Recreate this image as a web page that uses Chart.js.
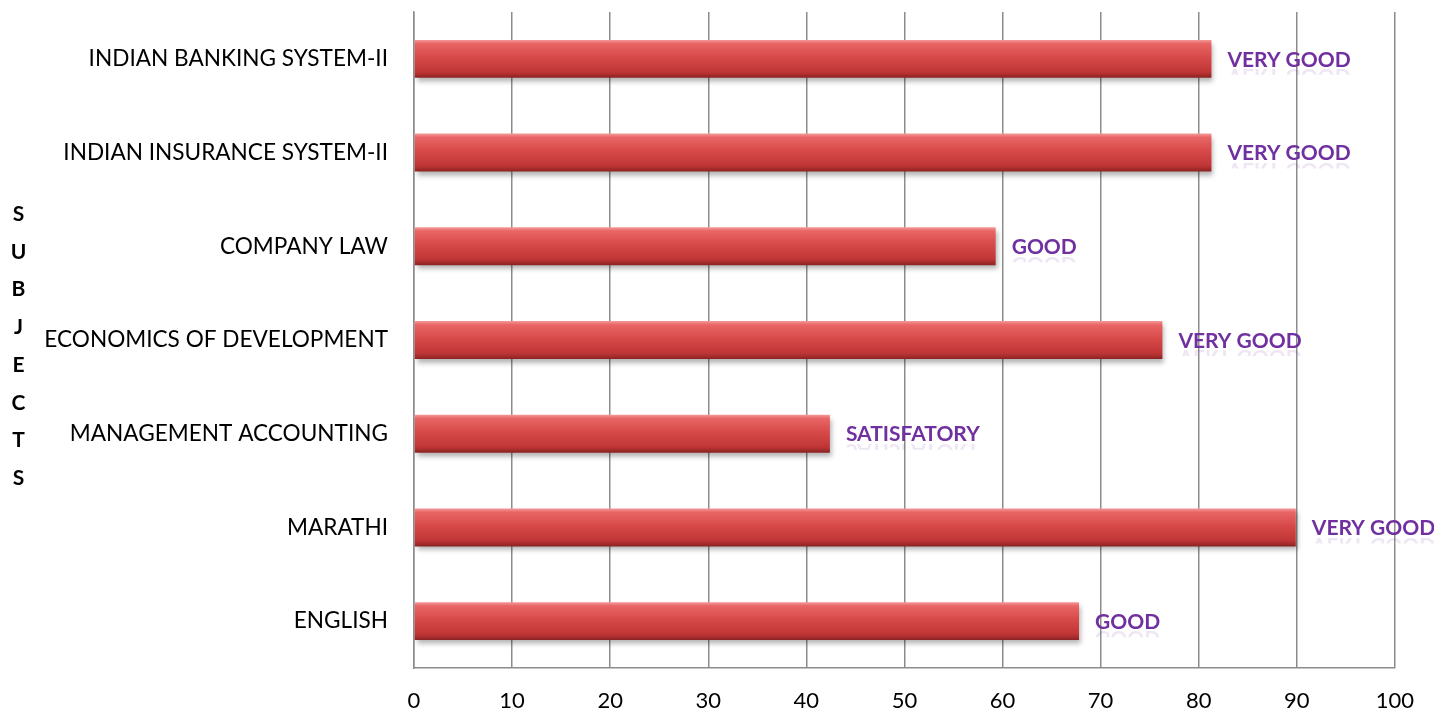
<!DOCTYPE html>
<html>
<head>
<meta charset="utf-8">
<script src="https://cdn.jsdelivr.net/npm/chart.js@4"></script>
<style>
  body { margin: 0; background: #fff; }
  #wrap { position: relative; width: 1434px; height: 715px; }
  #side { position: absolute; left: 8px; top: 194px; width: 21px; font: bold 21px Lato, sans-serif;
          text-align: center; line-height: 37.7px; color: #000; }
</style>
</head>
<body>
<div id="wrap">
  <canvas id="grafico" width="1434" height="715"></canvas>
  <div id="side">S<br>U<br>B<br>J<br>E<br>C<br>T<br>S</div>
</div>
<script>
const materias = ['INDIAN BANKING SYSTEM-II', 'INDIAN INSURANCE SYSTEM-II', 'COMPANY LAW',
    'ECONOMICS OF DEVELOPMENT', 'MANAGEMENT ACCOUNTING', 'MARATHI', 'ENGLISH'];
const notas = [81.3, 81.3, 59.3, 76.3, 42.4, 89.9, 67.8];
const conceitos = ['VERY GOOD', 'VERY GOOD', 'GOOD', 'VERY GOOD', 'SATISFATORY', 'VERY GOOD', 'GOOD'];
const ticksX = [0, 10, 20, 30, 40, 50, 60, 70, 80, 90, 100];

const ctx = document.getElementById('grafico');

// cor da barra com gradiente vertical (efeito 3D)
function corBarra(c) {
    const chart = c.chart;
    const y = chart.scales.y;
    if (!y || c.dataIndex === undefined) return '#c0393b';
    const yc = y.getPixelForValue(c.dataIndex);
    if (!isFinite(yc)) return '#c0393b';
    const h = 19;
    const g = chart.ctx.createLinearGradient(0, yc - h, 0, yc + h);
    g.addColorStop(0, '#f59a9a');
    g.addColorStop(0.1, '#e96565');
    g.addColorStop(0.45, '#d84a4a');
    g.addColorStop(0.85, '#bf3535');
    g.addColorStop(1, '#8a2222');
    return g;
}

const sombra = {
    id: 'sombra',
    beforeDatasetsDraw(chart) {
        const c = chart.ctx;
        c.save();
        c.shadowColor = 'rgba(0,0,0,0.3)';
        c.shadowOffsetY = 4;
        c.shadowOffsetX = 2;
        c.shadowBlur = 5;
    },
    afterDatasetsDraw(chart) {
        chart.ctx.restore();
        const c = chart.ctx;
        const meta = chart.getDatasetMeta(0);
        c.save();
        c.font = 'bold 21px Lato, sans-serif';
        c.textBaseline = 'middle';
        c.textAlign = 'left';
        meta.data.forEach((bar, i) => {
            const x = bar.x + 16;
            const y = bar.y + 1;
            // reflexo
            c.save();
            c.beginPath();
            c.rect(x - 2, y + 8, 200, 7);
            c.clip();
            c.globalAlpha = 0.12;
            c.translate(0, y + 16);
            c.scale(1, -1);
            c.fillStyle = '#7030a0';
            c.fillText(conceitos[i], x, 0);
            c.restore();
            c.fillStyle = '#7030a0';
            c.fillText(conceitos[i], x, y);
        });
        c.restore();
    }
};

new Chart(ctx, {
    type: 'bar',
    data: {
        labels: materias,
        datasets: [{
            label: 'marks',
            data: notas,
            backgroundColor: corBarra,
            borderWidth: 0,
            barPercentage: 0.405,
            categoryPercentage: 1
        }]
    },
    options: {
        indexAxis: 'y',
        responsive: false,
        animation: false,
        layout: { padding: { top: 12, right: 38, left: 0, bottom: 0 } },
        scales: {
            x: {
                min: 0,
                max: 100,
                afterBuildTicks: s => { s.ticks = ticksX.map(v => ({ value: v })); },
                afterFit: s => { s.height = 47; },
                grid: { color: '#8c8c8c', lineWidth: 1.5, drawTicks: false },
                border: { color: '#8c8c8c', width: 1.5 },
                ticks: { color: '#000', padding: 20, font: { family: 'Lato', size: 22 } }
            },
            y: {
                afterFit: s => { s.width = 414; s.paddingTop = 0; s.paddingBottom = 0; },
                grid: { display: false, drawTicks: false },
                border: { color: '#8c8c8c', width: 1.5 },
                ticks: { color: '#000', padding: 26, font: { family: 'Lato', size: 22.6 } }
            }
        },
        plugins: {
            legend: { display: false },
            tooltip: { enabled: false }
        }
    },
    plugins: [sombra]
});
</script>
</body>
</html>
